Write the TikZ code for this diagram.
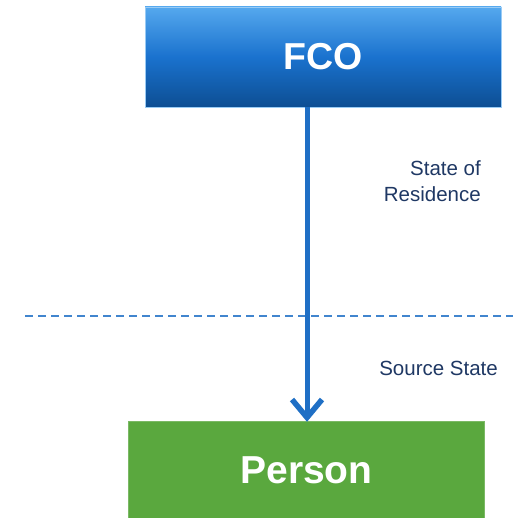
\documentclass[tikz,border=0pt]{standalone}
\usepackage{fontspec}
\setmainfont{Liberation Sans}
\usetikzlibrary{positioning, arrows.meta}
\definecolor{fcotop}{HTML}{55A8EE}
\definecolor{fcomid}{HTML}{1A72CE}
\definecolor{fcobot}{HTML}{0D4E93}
\definecolor{persongreen}{HTML}{5AA83E}
\definecolor{arrowblue}{HTML}{1F6FC5}
\definecolor{labelnavy}{HTML}{1F3864}
\tikzset{
  box/.style={minimum width=356pt, minimum height=100pt, inner sep=0pt, text=white}, % the two boxes
  fcobox/.style={box, top color=fcotop, bottom color=fcobot, middle color=fcomid, draw=fcotop!60, font=\fontsize{37.5}{44}\selectfont\bfseries}, % blue gradient
  personbox/.style={box, fill=persongreen, draw=persongreen!80!white, font=\fontsize{39}{46}\selectfont\bfseries}, % green box
  sidelabel/.style={text=labelnavy, font=\fontsize{20.5}{26}\selectfont, align=right, inner sep=0pt}, % texts on the right
}

\begin{document}
\begin{tikzpicture}[x=1pt, y=-1pt]
  \useasboundingbox (0,0) rectangle (515,518);
  \node[fcobox] (fco) at (323,57) {FCO};
  \node[personbox, minimum height=98pt] (person) at (306.5,470) {Person};

  \coordinate (left) at (25,316);
  \coordinate (right) at (513,316);
  \draw[arrowblue!85!white, line width=1.2pt, dash pattern=on 8pt off 5pt] (left) -- (right);

  \draw[arrowblue, line width=5pt, -{Straight Barb[length=18pt, width=30pt, line width=5.5pt]}]
    (fco.south -| 307,0) -- ([yshift=-1pt]person.north -| 307,0);

  \node[sidelabel, anchor=north east] (residence) at (481,160) {State of\\Residence};
  \node[sidelabel, anchor=east] (source) at (498,368) {Source State};
\end{tikzpicture}
\end{document}
